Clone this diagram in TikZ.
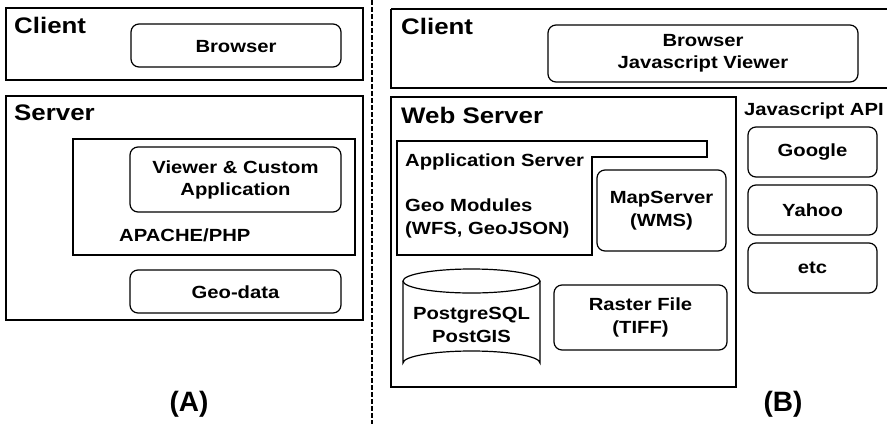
\documentclass[tikz,border=0pt]{standalone}
\usepackage{fontspec}
\newfontfamily\figfont{Liberation Sans}[FakeStretch=1.15]
\newfontfamily\capfont{Liberation Sans}
\begin{document}
\begin{tikzpicture}[x=1pt,y=-1pt,
  frame/.style={draw, line width=1.2pt},
  rbox/.style={draw, line width=1.2pt, rounded corners=8pt},
  head/.style={anchor=base west, inner sep=0pt, font=\figfont\bfseries\fontsize{22.5}{26}\selectfont},
  body/.style={inner sep=0pt, align=center, font=\figfont\bfseries\fontsize{17.6}{22.5}\selectfont},
  lbl/.style={anchor=base west, inner sep=0pt, font=\figfont\bfseries\fontsize{17.6}{23}\selectfont},
  caption/.style={inner sep=0pt, font=\capfont\bfseries\fontsize{28}{30}\selectfont}]
\useasboundingbox (0,0) rectangle (887,424);

% ---------- (A) ----------
\draw[frame] (6,8) rectangle (363,80);
\node[head] (clientA) at (14,33) {Client};
\draw[rbox] (131,24) rectangle (341,67);
\node[body] (browserA) at (236,46.5) {Browser};

\draw[frame] (6,96) rectangle (363,320);
\node[head] (serverA) at (14,120) {Server};
\draw[frame] (73,139) rectangle (355,255);
\draw[rbox] (130,147) rectangle (341,212);
\node[body] (viewerA) at (235.5,180) {Viewer \& Custom\\Application};
\node[lbl] (apache) at (119,241) {APACHE/PHP};
\draw[rbox] (130,270) rectangle (341,313);
\node[body] (geodata) at (235.5,292) {Geo-data};

\node[caption] (capA) at (189,404) {(A)};

% separator
\draw[line width=1.4pt, dash pattern=on 4.5pt off 2.5pt] (372,0) -- (372,424);

% ---------- (B) ----------
\draw[frame] (391,9) -- (890,9) (391,9) -- (391,88) -- (890,88);
\node[head] (clientB) at (401,34) {Client};
\draw[rbox] (548,25) rectangle (858,82);
\node[body] (browserB) at (703,53.5) {Browser\\Javascript Viewer};

\draw[frame] (391,97) rectangle (736,387);
\node[head] (webserver) at (401,123) {Web Server};
\draw[frame] (397,141) -- (707,141) -- (707,157) -- (592,157) -- (592,255) -- (397,255) -- cycle;
\node[lbl] (appserver) at (405,166) {Application Server};
\node[lbl, align=left, anchor=north west] (geomod) at (405,199) {Geo Modules\\(WFS, GeoJSON)};
\draw[rbox] (597,170) rectangle (726,251);
\node[body] (mapserver) at (661.5,210.5) {MapServer\\(WMS)};

% database cylinder
\draw[line width=1.2pt] (403,281) arc[start angle=180, end angle=360, x radius=68.5, y radius=12]
  arc[start angle=0, end angle=180, x radius=68.5, y radius=12] -- cycle;
\draw[line width=1.2pt] (403,281) -- (403,363) arc[start angle=180, end angle=360, x radius=68.5, y radius=12] -- (540,281);
\node[body] (postgres) at (471.5,325) {PostgreSQL\\PostGIS};

\draw[rbox] (554,285) rectangle (727,350);
\node[body] (raster) at (640.5,317.5) {Raster File\\(TIFF)};

\node[lbl] (jsapi) at (744,115) {Javascript API};
\draw[rbox] (748,127) rectangle (877,177);
\node[body] (google) at (812.5,152) {Google};
\draw[rbox] (748,185) rectangle (877,235);
\node[body] (yahoo) at (812.5,210) {Yahoo};
\draw[rbox] (748,243) rectangle (877,293);
\node[body] (etc) at (812.5,268) {etc};

\node[caption] (capB) at (783,404) {(B)};
\end{tikzpicture}
\end{document}
